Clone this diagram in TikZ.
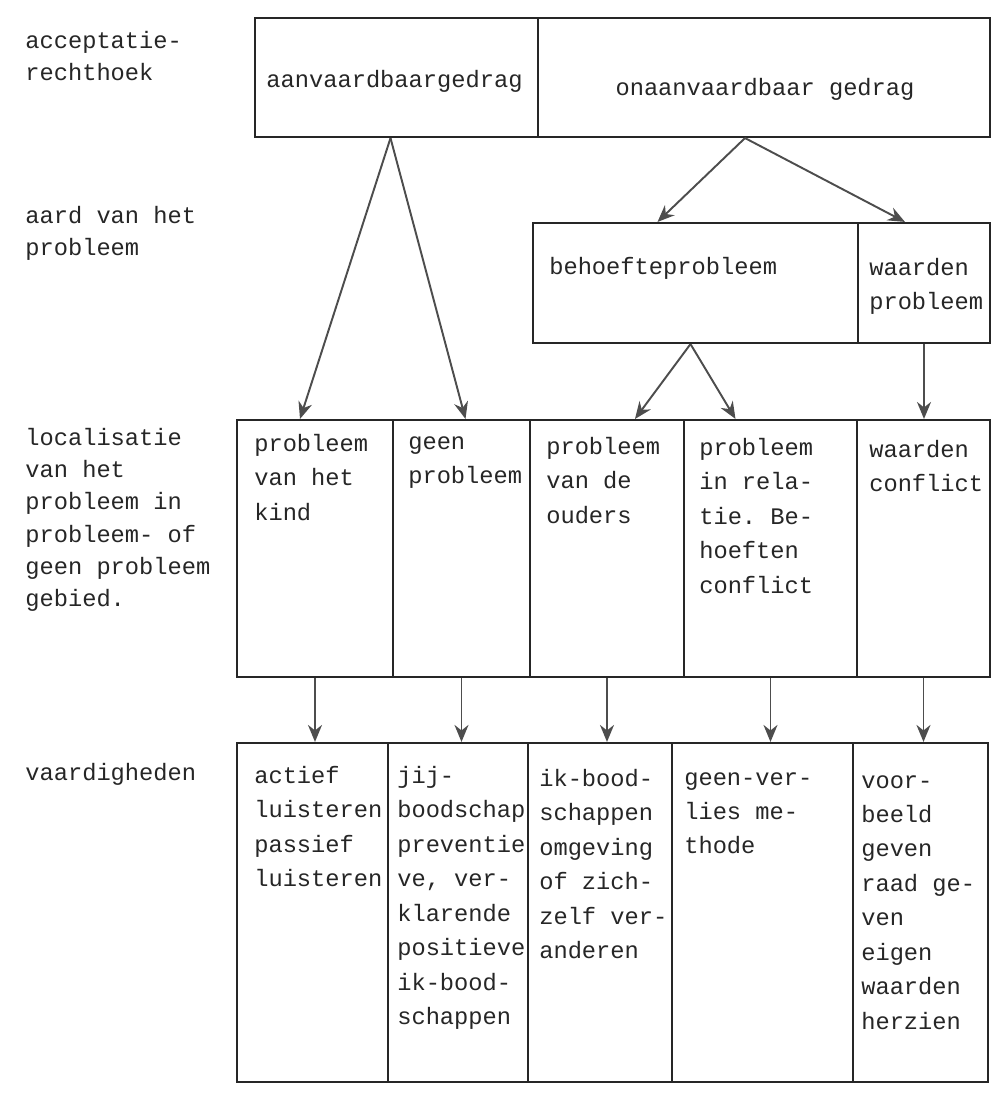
\documentclass[tikz,border=0pt]{standalone}
\usepackage{fontspec}
\setmonofont{Liberation Mono}
\usetikzlibrary{arrows.meta,fit,calc}
\definecolor{ink}{HTML}{262626}
\definecolor{pen}{HTML}{4D4D4D}
\tikzset{font=\ttfamily\fontsize{13.5}{19.6}\selectfont}
\tikzstyle{cell}=[draw=ink,line width=1.2pt,inner sep=0pt]
\tikzstyle{txt}=[inner sep=0pt,anchor=north west,align=left,text=ink]
\tikzstyle{lab}=[txt,font=\ttfamily\fontsize{13.5}{18.3}\selectfont]
\tikzstyle{arr}=[draw=pen,line width=1.1pt,-{Stealth[length=3.4mm,width=2.8mm]}]
\begin{document}
\begin{tikzpicture}[x=0.02cm,y=-0.02cm]
	\useasboundingbox (0,0) rectangle (993,1093);
	% row labels
	\node [lab] (lab1) at (25,31) {acceptatie-\\rechthoek};
	\node [lab] (lab2) at (25,206) {aard van het\\probleem};
	\node [lab] (lab3) at (25,428) {localisatie\\van het\\probleem in\\probleem- of\\geen probleem\\gebied.};
	\node [lab] (lab4) at (25,763) {vaardigheden};
	% acceptatierechthoek
	\node [cell, fit={(255,18) (538,137)}] (aanv) {};
	\node [cell, fit={(538,18) (990,137)}] (onaanv) {};
	\node [txt, anchor=center] (aanvT) at ($(aanv.center)+(-2,4)$) {aanvaardbaargedrag};
	\node [txt, anchor=center] (onaanvT) at ($(onaanv.center)+(1,12)$) {onaanvaardbaar gedrag};
	% aard van het probleem
	\node [cell, fit={(533,223) (858,343)}] (behoefte) {};
	\node [cell, fit={(858,223) (990,343)}] (waardenp) {};
	\node [txt] (behoefteT) at ($(behoefte.north west)+(17,35)$) {behoefteprobleem};
	\node [txt] (waardenpT) at ($(waardenp.north west)+(12,36)$) {waarden\\probleem};
	% localisatie
	\node [cell, fit={(237,420) (393,677)}] (kind) {};
	\node [cell, fit={(393,420) (530,677)}] (geen) {};
	\node [cell, fit={(530,420) (684,677)}] (ouders) {};
	\node [cell, fit={(684,420) (857,677)}] (relatie) {};
	\node [cell, fit={(857,420) (990,677)}] (conflict) {};
	\node [txt] (kindT) at ($(kind.north west)+(18,15)$) {probleem\\van het\\kind};
	\node [txt] (geenT) at ($(geen.north west)+(16,17)$) {geen\\probleem};
	\node [txt] (oudersT) at ($(ouders.north west)+(17,18)$) {probleem\\van de\\ouders};
	\node [txt] (relatieT) at ($(relatie.north west)+(16,19)$) {probleem\\in rela-\\tie. Be-\\hoeften\\conflict};
	\node [txt] (conflictT) at ($(conflict.north west)+(13,21)$) {waarden\\conflict};
	% vaardigheden
	\node [cell, fit={(237,743) (388,1082)}] (actief) {};
	\node [cell, fit={(388,743) (528,1082)}] (jij) {};
	\node [cell, fit={(528,743) (672,1082)}] (ikbood) {};
	\node [cell, fit={(672,743) (853,1082)}] (geenver) {};
	\node [cell, fit={(853,743) (988,1082)}] (voorbeeld) {};
	\node [txt] (actiefT) at ($(actief.north west)+(18,24)$) {actief\\luisteren\\passief\\luisteren};
	\node [txt] (jijT) at ($(jij.north west)+(10,24)$) {jij-\\boodschap\\preventie\\ve, ver-\\klarende\\positieve\\ik-bood-\\schappen};
	\node [txt] (ikboodT) at ($(ikbood.north west)+(12,27)$) {ik-bood-\\schappen\\omgeving\\of zich-\\zelf ver-\\anderen};
	\node [txt] (geenverT) at ($(geenver.north west)+(13,30)$) {geen-ver-\\lies me-\\thode};
	\node [txt] (voorbeeldT) at ($(voorbeeld.north west)+(9,33)$) {voor-\\beeld\\geven\\raad ge-\\ven\\eigen\\waarden\\herzien};
	% pijlen
	\draw [arr] ($(aanv.south)+(-6,0)$) -- ($(kind.north)+(-15,0)$);
	\draw [arr] ($(aanv.south)+(-6,0)$) -- ($(geen.north)+(4,0)$);
	\draw [arr] ($(onaanv.south)+(-19,0)$) -- ($(behoefte.north)+(-38,0)$);
	\draw [arr] ($(onaanv.south)+(-19,0)$) -- ($(waardenp.north)+(-19,0)$);
	\draw [arr] ($(behoefte.south)+(-5,0)$) -- ($(ouders.north)+(28,0)$);
	\draw [arr] ($(behoefte.south)+(-5,0)$) -- ($(relatie.north)+(-35,0)$);
	\draw [arr] (waardenp.south) -- (waardenp.south |- conflict.north);
	\draw [arr] (kind.south) -- (kind.south |- actief.north);
	\draw [arr] (geen.south) -- (geen.south |- jij.north);
	\draw [arr] (ouders.south) -- (ouders.south |- ikbood.north);
	\draw [arr] (relatie.south) -- (relatie.south |- geenver.north);
	\draw [arr] (conflict.south) -- (conflict.south |- voorbeeld.north);
\end{tikzpicture}
\end{document}
